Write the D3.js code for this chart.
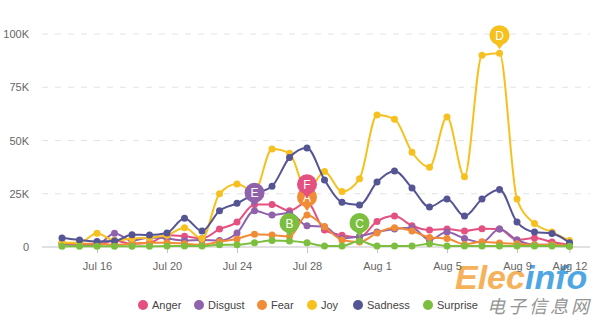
<!DOCTYPE html>
<html><head><meta charset="utf-8">
<script src="https://cdn.jsdelivr.net/npm/d3@7"></script>
<style>body{margin:0;background:#fff}svg{display:block;font-family:"Liberation Sans",Arial,sans-serif}</style>
</head><body><svg id="c" width="598" height="325"></svg>
<script>
const days = ["2017-07-14","2017-07-15","2017-07-16","2017-07-17","2017-07-18","2017-07-19","2017-07-20","2017-07-21","2017-07-22","2017-07-23","2017-07-24","2017-07-25","2017-07-26","2017-07-27","2017-07-28","2017-07-29","2017-07-30","2017-07-31","2017-08-01","2017-08-02","2017-08-03","2017-08-04","2017-08-05","2017-08-06","2017-08-07","2017-08-08","2017-08-09","2017-08-10","2017-08-11","2017-08-12"];
const anger    = [1.5,1,1,3,1.5,2,5.5,5,4,8.4,11.7,20,20,17,21,8,5.5,4.5,12,14.5,10,8,8.4,7.5,8.6,8.4,3.3,4.2,2.3,1];
const disgust  = [1.5,1,1,6.5,3,4.5,4,3,3.3,3,6.6,17,15,16,10,9.5,4,5,7,8.4,9,3.3,7,4,2.2,8.4,3.3,1,1,0.5];
const fear     = [2,1.5,1.5,1,1.5,2,2,1.5,1,2.5,3.8,6,5.6,5,15,9.5,3.3,2.3,6.6,9,7.5,4.5,4,1.2,2.5,1.9,1.5,1,1,0.5];
const joy      = [2,2,6.5,3,4,4.5,5.5,9,4,25,29.6,26,46,44,26,35.5,26,32,62,60,44.5,37.5,61,33,90,91,22.5,11,7,3];
const sadness  = [4.2,3.3,2.6,2.8,5.8,5.6,6.6,13.5,7.5,17,20.5,25,28.5,42,46.5,31.5,21,19.7,30.5,35.7,27.7,18.8,22.5,14.5,22.5,27,11.7,7,6.3,2];
const surprise = [0.3,0.3,0.3,0.3,0.3,0.3,0.5,0.5,0.5,1,1,2,3,2.8,2,0.5,0.5,2.8,0.5,0.5,0.5,1.5,0.5,0.5,0.5,0.5,0.5,0.5,0.5,0.3];
const seriesNames = ["Anger","Disgust","Fear","Joy","Sadness","Surprise"];
const seriesColors = ["#e4507f","#9062ab","#f28b35","#f6c11f","#555494","#7cbf3e"];
const yTicks = [0,25,50,75,100];
const yTickLabels = ["0","25K","50K","75K","100K"];
const xTicks = ["2017-07-16","2017-07-20","2017-07-24","2017-07-28","2017-08-01","2017-08-05","2017-08-09","2017-08-12"];
const xTickLabels = ["Jul 16","Jul 20","Jul 24","Jul 28","Aug 1","Aug 5","Aug 9","Aug 12"];
const annLabels = ["A","F","E","B","C","D"];
const annSeries = ["Fear","Anger","Disgust","Surprise","Surprise","Joy"];
const annDays = ["2017-07-28","2017-07-28","2017-07-25","2017-07-27","2017-07-31","2017-08-08"];

const values = [anger,disgust,fear,joy,sadness,surprise];
const parse = d3.utcParse("%Y-%m-%d");
const svg = d3.select("#c");
const x = d3.scaleUtc().domain([parse(days[0]), parse(days[days.length-1])]).range([62,569.5]);
const y = d3.scaleLinear().domain([0,100]).range([247,34]);

// grid
const g = svg.append("g");
g.selectAll("line.grid").data(yTicks.filter(t=>t>0)).join("line")
  .attr("x1",42).attr("x2",590).attr("y1",d=>y(d)).attr("y2",d=>y(d))
  .attr("stroke","#e3e3e3").attr("stroke-width",1.2).attr("stroke-dasharray","6,7");
g.selectAll("text.yl").data(yTicks).join("text")
  .attr("x",29).attr("y",d=>y(d)+4).attr("text-anchor","end")
  .attr("font-size",11).attr("fill","#666").text((d,i)=>yTickLabels[i]);

// watermark (behind the axis labels)
const wm = svg.append("g").attr("opacity",0.9);
const wt = wm.append("text").attr("x",455).attr("y",289).attr("font-size",34)
  .attr("font-weight","bold").attr("font-style","italic").attr("font-family","'Liberation Sans',Arial,sans-serif");
wt.append("tspan").attr("fill","#f6a94a").text("Elec");
wt.append("tspan").attr("fill","#3d9de0").text("info");
wm.append("text").attr("x",487).attr("y",313).attr("font-size",18).attr("font-style","italic")
  .attr("fill","#8a8a8a").attr("font-family","'Noto Sans CJK SC',sans-serif").attr("letter-spacing",3).text("电子信息网");

// x axis
const xa = svg.append("g").attr("transform","translate(0,247)");
const axis = d3.axisBottom(x).tickValues(xTicks.map(parse)).tickSize(6)
  .tickFormat((d,i)=>xTickLabels[i]);
xa.call(axis);
xa.select(".domain").attr("d","M42,0H590").attr("stroke","#c3c3c3");
xa.selectAll(".tick line").attr("stroke","#c3c3c3");
xa.selectAll(".tick text").attr("font-size",11).attr("fill","#666").attr("y",15)
  .attr("font-family","'Liberation Sans',Arial,sans-serif");

// series
const line = d3.line().x((d,i)=>x(parse(days[i]))).y(d=>y(d)).curve(d3.curveMonotoneX);
seriesNames.forEach((name,k)=>{
  const sg = svg.append("g");
  sg.append("path").attr("d",line(values[k])).attr("fill","none")
    .attr("stroke",seriesColors[k]).attr("stroke-width",2);
  sg.selectAll("circle").data(values[k]).join("circle")
    .attr("cx",(d,i)=>x(parse(days[i]))).attr("cy",d=>y(d)).attr("r",3.5)
    .attr("fill",seriesColors[k]);
});

// annotations
annLabels.forEach((lab,i)=>{
  const k = seriesNames.indexOf(annSeries[i]);
  const di = days.indexOf(annDays[i]);
  const px = x(parse(annDays[i])), py = y(values[k][di]);
  const cy = py - 18;
  const ag = svg.append("g");
  ag.append("path").attr("d",`M${px-5},${cy+7}L${px+5},${cy+7}L${px},${cy+14}Z`).attr("fill",seriesColors[k]);
  ag.append("circle").attr("cx",px).attr("cy",cy).attr("r",10).attr("fill",seriesColors[k]);
  ag.append("text").attr("x",px).attr("y",cy+4.5).attr("text-anchor","middle")
    .attr("font-size",12).attr("fill","#fff").text(lab);
});

// legend
const lx = [143,199,262,312,358,428];
const lg = svg.append("g");
seriesNames.forEach((n,k)=>{
  lg.append("circle").attr("cx",lx[k]).attr("cy",305).attr("r",5).attr("fill",seriesColors[k]);
  lg.append("text").attr("x",lx[k]+9).attr("y",309).attr("font-size",11).attr("fill","#444").text(n);
});
</script></body></html>
